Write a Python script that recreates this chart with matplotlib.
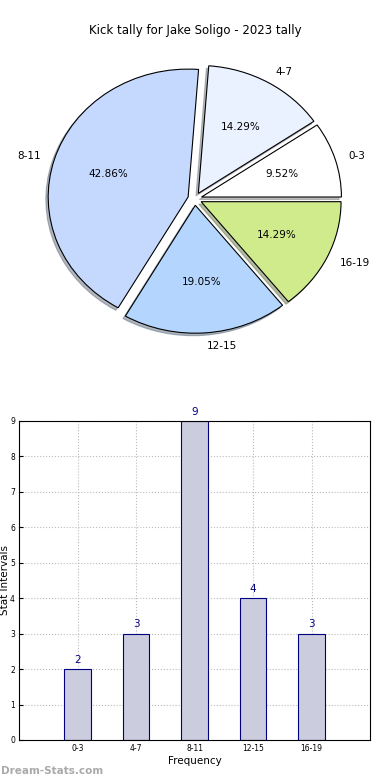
import matplotlib
matplotlib.use("Agg")
import matplotlib.pyplot as plt

labels = ["0-3", "4-7", "8-11", "12-15", "16-19"]
counts = [2, 3, 9, 4, 3]
pie_colors = ["#ffffff", "#eaf1ff", "#c5d9fe", "#b4d6fe", "#d0eb8c"]
title = "Kick tally for Jake Soligo - 2023 tally"


def draw_pie(fig):
    ax = fig.add_axes([0.051, 0.54, 0.897, 0.41])
    wedges, texts, autotexts = ax.pie(
        counts, labels=labels, colors=pie_colors, autopct="%1.2f%%",
        explode=[0.05] * len(counts),
        shadow={"ox": -0.012, "oy": -0.014, "shade": 0.5},
        startangle=0,
        wedgeprops={"edgecolor": "black", "linewidth": 0.8},
        textprops={"fontsize": 7.5})
    ax.set_aspect("auto")
    ax.set_xlim(-1.25, 1.25)
    ax.set_ylim(-1.25, 1.25)
    fig.text(0.5, 0.961, title, ha="center", va="center", fontsize=8.5)


def draw_bars(fig):
    ax = fig.add_axes([0.049, 0.0513, 0.9, 0.409])
    x = list(range(len(counts)))
    ax.bar(x, counts, width=0.45, color="#ccccdf", edgecolor="#000080",
           linewidth=0.8, zorder=2)
    for xi, c in zip(x, counts):
        ax.text(xi, c + 0.12, str(c), ha="center", va="bottom",
                color="#000080", fontsize=7.5)
    ax.set_xlim(-1, 5)
    ax.set_ylim(0, 9)
    ax.set_xticks(x)
    ax.set_xticklabels(labels)
    ax.set_yticks(range(10))
    ax.tick_params(labelsize=5.5, direction="in", length=3, pad=3)
    ax.grid(True, linestyle=":", color="#bbbbbb", linewidth=0.8, zorder=0)
    ax.set_axisbelow(True)
    ax.set_xlabel("Frequency", fontsize=7.5, labelpad=2)
    ax.set_ylabel("Stat Intervals", fontsize=7.5, labelpad=2)
    ax.yaxis.set_label_coords(-0.025, 0.5)


def main():
    fig = plt.figure(figsize=(3.9, 7.8), dpi=100)
    draw_pie(fig)
    draw_bars(fig)
    fig.text(0.003, 0.012, "Dream-Stats.com", color="#aaaaaa",
             fontsize=7.5, fontweight="bold", ha="left", va="center")
    fig.savefig("out.png", dpi=100)


if __name__ == "__main__":
    main()
